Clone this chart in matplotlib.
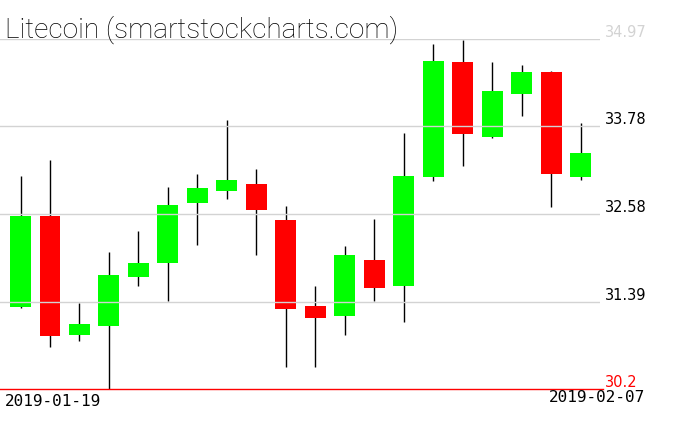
import matplotlib
matplotlib.use("Agg")
import matplotlib.pyplot as plt
import matplotlib.transforms as mtransforms
import numpy as np

# daily Litecoin OHLC, 2019-01-19 .. 2019-02-07
dates = np.arange("2019-01-19", "2019-02-08", dtype="datetime64[D]")
opens = [31.32, 32.56, 30.94, 31.06, 31.73, 31.92, 32.73, 32.90, 32.99, 32.50,
         31.33, 31.20, 31.96, 31.61, 33.09, 34.66, 33.64, 34.22, 34.52, 33.09]
highs = [33.10, 33.32, 31.37, 32.07, 32.36, 32.95, 33.13, 33.87, 33.20, 32.69,
         31.60, 32.15, 32.52, 33.69, 34.90, 34.96, 34.66, 34.62, 34.54, 33.83]
lows = [31.31, 30.77, 30.85, 30.20, 31.61, 31.40, 32.16, 32.79, 32.03, 30.50,
        30.50, 30.93, 31.40, 31.11, 33.04, 33.24, 33.62, 33.92, 32.68, 33.05]
closes = [32.56, 30.92, 31.08, 31.75, 31.92, 32.71, 32.94, 33.05, 32.64, 31.29,
          31.17, 32.03, 31.58, 33.10, 34.67, 33.67, 34.26, 34.52, 33.13, 33.42]
levels = [34.97, 33.78, 32.58, 31.39]
low_level = 30.2
title = "Litecoin (smartstockcharts.com)"

GREEN = "#00ff00"
RED = "#ff0000"
GRID = "#d3d3d3"

W, H = 676, 431
fig = plt.figure(figsize=(W / 100, H / 100), dpi=100)
ax = fig.add_axes([0, (H - 390) / H, 600 / W, 350 / H])
ax.set_axis_off()

o = np.array(opens)
c = np.array(closes)
x = np.arange(len(opens))
up = c >= o
colors = np.where(up, GREEN, RED)

ax.vlines(x, lows, highs, color="black", linewidth=1.0, zorder=1)
ax.bar(x, np.abs(c - o), bottom=np.minimum(o, c), width=0.71,
       color=colors, linewidth=0, zorder=2)

for lv in levels:
    ax.axhline(lv, color=GRID, linewidth=1.0, zorder=3)
ax.axhline(low_level, xmax=603 / 600, color=RED, linewidth=1.0, zorder=4,
           clip_on=False)

ax.set_xlim(-0.696, 19.66)
ax.set_ylim(low_level, levels[0])

trans = mtransforms.blended_transform_factory(ax.transAxes, ax.transData)
for i, lv in enumerate(levels):
    ax.text(605 / 600, lv, f"{lv:.2f}", transform=trans, ha="left",
            va="bottom", fontsize=10.5, color=GRID if i == 0 else "black")
ax.text(605 / 600, low_level, f"{low_level}", transform=trans, ha="left",
        va="bottom", fontsize=10.5, color=RED)

fig.text(5 / W, (H - 38) / H, title, ha="left", va="baseline",
         fontsize=20.2, family="Roboto", fontweight="light",
         color="black")

fmt = lambda d: str(d)
fig.text(5 / W, (H - 394) / H, fmt(dates[0]), ha="left", va="top",
         fontsize=11.5, family="DejaVu Sans Mono")
fig.text(645 / W, (H - 390) / H, fmt(dates[-1]), ha="right", va="top",
         fontsize=11.5, family="DejaVu Sans Mono")

fig.savefig("out.png", dpi=100)
